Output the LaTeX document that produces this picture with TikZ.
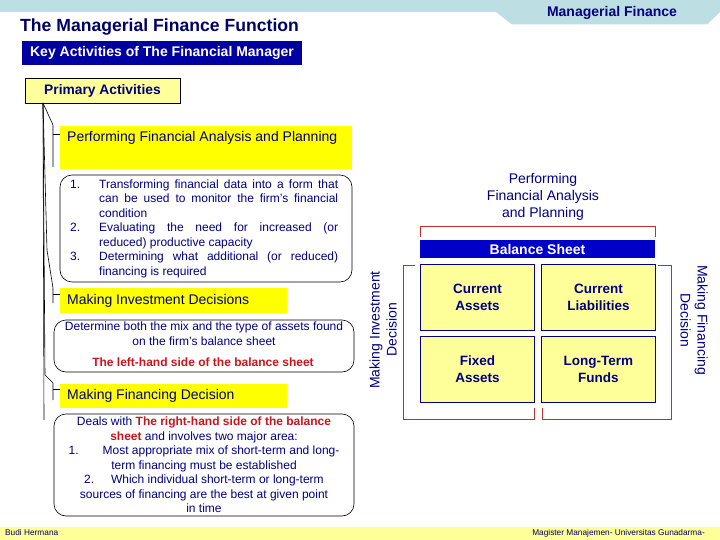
\documentclass[tikz,border=0pt]{standalone}
\usepackage{fontspec}
\setmainfont{Liberation Sans}
\definecolor{navy}{HTML}{000080}
\definecolor{titlenavy}{HTML}{000066}
\definecolor{keyblue}{HTML}{0000A0}
\definecolor{bsblue}{HTML}{0000C8}
\definecolor{lyellow}{HTML}{FFFF99}
\definecolor{syellow}{HTML}{FFFF00}
\definecolor{topband}{HTML}{BDDEE3}
\definecolor{darkred}{HTML}{C8141E}
\definecolor{brk}{HTML}{C03030}
\tikzset{
  ybox/.style={fill=syellow, inner sep=0pt, anchor=north west},
  ytext/.style={anchor=west, inner sep=0pt, text=navy, font=\fontsize{14}{16}\selectfont},
  rbox/.style={draw=black, line width=0.6pt, rounded corners=12pt},
  quad/.style={draw=navy, line width=0.8pt, fill=lyellow, inner sep=0pt, anchor=north west,
    minimum width=114pt, minimum height=66pt, align=center, text=navy,
    font=\fontsize{13.5}{17}\selectfont\bfseries},
  tree/.style={draw=black, line width=0.6pt},
  bracket/.style={draw=brk, line width=0.8pt},
}
\begin{document}
\begin{tikzpicture}[x=1pt,y=-1pt]
\useasboundingbox (0,0) rectangle (720,540);
% top band
\fill[topband] (0,0) rectangle (720,12.5);
\fill[topband] (496,12) -- (720,12) -- (707,24.5) -- (512,24.5) -- cycle;
\node[text=navy, font=\fontsize{14}{16}\selectfont\bfseries] (mf) at (612,13) {Managerial Finance};
% title
\node[anchor=west, inner sep=0pt, text=titlenavy, font=\fontsize{17.6}{20}\selectfont\bfseries] (title) at (20,26.5) {The Managerial Finance Function};
\node[fill=keyblue, minimum width=280pt, minimum height=24pt, inner sep=0pt, text=white,
  font=\fontsize{14}{16}\selectfont\bfseries] (key) at (162,53) {Key Activities of The Financial Manager};
\node[fill=lyellow, draw=black, line width=0.6pt, minimum width=155pt, minimum height=25pt, inner sep=0pt,
  text=navy, font=\fontsize{13.8}{16}\selectfont\bfseries] (prim) at (102.5,90.5) {Primary Activities};
% left column
\node[ybox, minimum width=292pt, minimum height=43pt] (pfa) at (60,126) {};
\node[ytext] (pfat) at (67,138) {Performing Financial Analysis and Planning};
\draw[rbox] (60,175) rectangle (352,282);
\node[anchor=north west, inner sep=0pt, text width=268pt, align=justify, text=navy,
  font=\fontsize{12}{14.5}\selectfont] (items) at (70,179.5) {\hyphenpenalty=10000\tolerance=9999%
\hangindent=29pt\hangafter=1\noindent\makebox[29pt][l]{1.}Transforming financial data into a form that\linebreak can be used to monitor the firm's financial\linebreak condition\par
\hangindent=29pt\hangafter=1\noindent\makebox[29pt][l]{2.}Evaluating the need for increased (or\linebreak reduced) productive capacity\par
\hangindent=29pt\hangafter=1\noindent\makebox[29pt][l]{3.}Determining what additional (or reduced)\linebreak financing is required\par};
\node[ybox, minimum width=227pt, minimum height=25pt] (mid) at (60,288) {};
\node[ytext] (midt) at (67,300.5) {Making Investment Decisions};
\draw[rbox] (54,320) rectangle (354,372);
\node[align=center, text=navy, font=\fontsize{12}{15}\selectfont] (invt) at (204,333.5) {Determine both the mix and the type of assets found\\on the firm's balance sheet};
\node[text=darkred, font=\fontsize{12}{14}\selectfont\bfseries] (lhs) at (203,362) {The left-hand side of the balance sheet};
\node[ybox, minimum width=227pt, minimum height=24pt] (mfd) at (60,384) {};
\node[ytext] (mfdt) at (67,396) {Making Financing Decision};
\draw[rbox] (54,414) rectangle (354,516);
\node[align=center, text=navy, font=\fontsize{12}{14.5}\selectfont] (fint) at (204,465) {%
Deals with \textcolor{darkred}{\bfseries The right-hand side of the balance}\\
\textcolor{darkred}{\bfseries sheet} and involves two major area:\\
1.\hspace{2em}Most appropriate mix of short-term and long-\\
term financing must be established\\
2.\hspace{1.4em}Which individual short-term or long-term\\
sources of financing are the best at given point\\
in time};
% tree connectors
\coordinate (p) at (43,103);
\coordinate (b1t) at (53,125); \coordinate (b1b) at (53,167); \coordinate (b1h) at (53,134);
\coordinate (b2t) at (53,288); \coordinate (b2b) at (53,303); \coordinate (b2h) at (53,294);
\coordinate (b3t) at (53,383); \coordinate (b3b) at (53,400); \coordinate (b3h) at (53,389);
\draw[tree] (p) -- (b1t) -- (b1b);
\draw[tree] (b1h) -- (pfa.west |- b1h);
\draw[tree] (p) -- (47,250) -- (b2t) -- (b2b);
\draw[tree] (b2h) -- (mid.west |- b2h);
\draw[tree] (p) -- (45,375) -- (b3t) -- (b3b);
\draw[tree] (b3h) -- (mfd.west |- b3h);
\draw[tree] (p) -- (44,420);
% right diagram
\node[align=center, text=navy, font=\fontsize{14}{17}\selectfont] (rpfa) at (543,197) {Performing\\Financial Analysis\\and Planning};
\draw[bracket] (420,237) -- (420,226) -- (655,226) -- (655,237);
\node[fill=bsblue, minimum width=235pt, minimum height=18pt, inner sep=0pt, text=white,
  font=\fontsize{14}{16}\selectfont\bfseries] (bs) at (537.5,249) {Balance Sheet};
\node[quad] (ca) at (420,264) {Current\\Assets};
\node[quad] (cl) at (541,264) {Current\\Liabilities};
\node[quad] (fa) at (420,336) {Fixed\\Assets};
\node[quad] (lt) at (541,336) {Long-Term\\Funds};
\draw[bracket] (415,265) -- (403,265) -- (403,419) -- (534,419) -- (534,408);
\draw[bracket] (658,265) -- (671,265) -- (671,419) -- (542,419) -- (542,408);
\node[rotate=90, align=center, text=navy, font=\fontsize{14}{17}\selectfont] (mid2) at (383,330) {Making Investment\\Decision};
\node[rotate=-90, align=center, text=navy, font=\fontsize{14}{17}\selectfont] (mfd2) at (694,320) {Making Financing\\Decision};
% footer
\fill[lyellow] (0,527) rectangle (720,540);
\node[anchor=west, inner sep=0pt, text=titlenavy, font=\fontsize{8.3}{9}\selectfont] (auth) at (5,533) {Budi Hermana};
\node[anchor=east, inner sep=0pt, text=titlenavy, font=\fontsize{8.3}{9}\selectfont] (univ) at (705,533) {Magister Manajemen- Universitas Gunadarma-};
\end{tikzpicture}
\end{document}
